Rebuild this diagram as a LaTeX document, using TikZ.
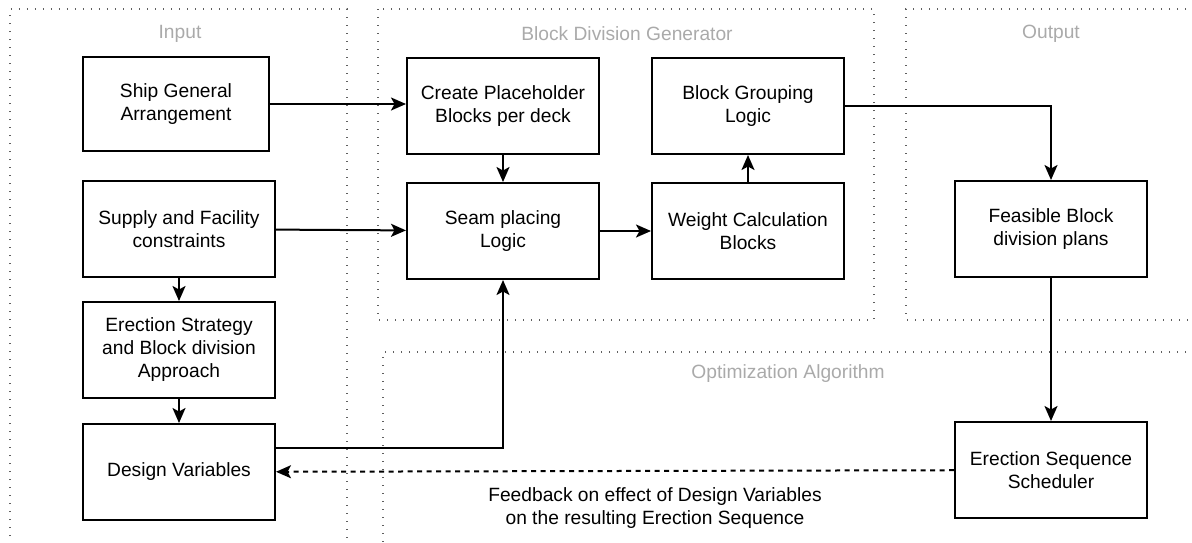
\documentclass[tikz,border=0pt]{standalone}
\usepackage{fontspec}
\setmainfont{Liberation Sans}
\usepackage{xcolor}
\usepackage{tikz}
\usetikzlibrary{arrows.meta,positioning}
\definecolor{framegray}{RGB}{95,95,95}
\definecolor{labelgray}{RGB}{170,170,170}

\begin{document}
\begin{tikzpicture}[x=1pt,y=-1pt,
  font=\fontsize{19.2}{23}\selectfont,
  box/.style={draw,line width=2pt,minimum width=192pt,minimum height=96pt,align=center,inner sep=0pt},
  frame/.style={draw=framegray,line width=1.3pt,dash pattern=on 1.3pt off 6.7pt},
  title/.style={text=labelgray},
  flow/.style={line width=2pt,-{Stealth[length=15pt,width=13pt,inset=3.5pt]}}
]
  \useasboundingbox (0,0) rectangle (1192,542);
  \clip (0,0) rectangle (1192,542);

  \draw[frame] (10,560) -- (10,9) -- (347,9) -- (347,560);
  \draw[frame] (378,9) rectangle (874,320);
  \draw[frame] (1210,9) -- (906,9) -- (906,320) -- (1210,320);
  \draw[frame] (1210,352) -- (383,352) -- (383,560);
  \node[title] (intitle) at (180,34) {Input};
  \node[title] (gentitle) at (627,34) {Block Division Generator};
  \node[title] (outtitle) at (1051,34) {Output};
  \node[title] (opttitle) at (788,374) {Optimization Algorithm};

  \node[box,minimum width=186pt,minimum height=94pt] (ship) at (176,104) {Ship General\\Arrangement};
  \node[box] (supply) at (179,229) {Supply and Facility\\constraints};
  \node[box, below=23pt of supply] (erect) {Erection Strategy\\and Block division\\Approach};
  \node[box, below=24pt of erect] (design) {Design Variables};

  \node[box] (create) at (503,106) {Create Placeholder\\Blocks per deck};
  \node[box, below=27pt of create] (seam) {Seam placing\\Logic};
  \node[box, right=51pt of seam] (weight) {Weight Calculation\\Blocks};
  \node[box, above=27pt of weight] (group) {Block Grouping\\Logic};

  \node[box] (feasible) at (1051,229) {Feasible Block\\division plans};
  \node[box, below=143pt of feasible] (sched) {Erection Sequence\\Scheduler};

  \draw[flow] (ship.east) -- (ship.east -| create.west);
  \draw[flow] (supply) -- (seam);
  \draw[flow] (create) -- (seam);
  \draw[flow] (seam) -- (weight);
  \draw[flow] (weight) -- (group);
  \draw[flow] (group.east) -| (feasible.north);
  \draw[flow] (feasible) -- (sched);
  \draw[flow] (supply) -- (erect);
  \draw[flow] (erect) -- (design);
  \draw[flow] ([yshift=24pt]design.east) -| (seam.south);
  \draw[flow,dash pattern=on 5pt off 4.5pt] (sched) -- node[pos=0.441,yshift=-37pt,align=center] (fbtext) {Feedback on effect of Design Variables\\on the resulting Erection Sequence} (design);
\end{tikzpicture}
\end{document}
